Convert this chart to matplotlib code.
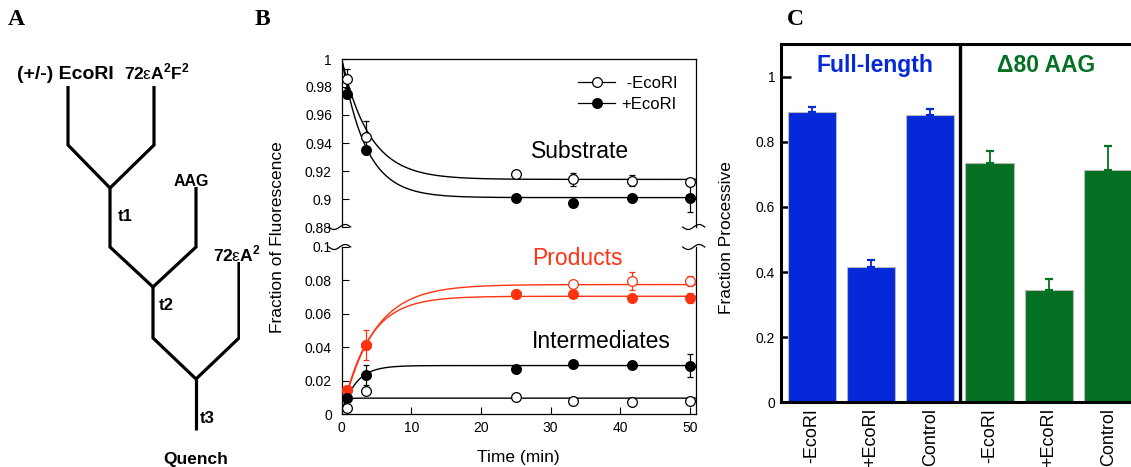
import numpy as np
import matplotlib
matplotlib.use("Agg")
from matplotlib import pyplot as plt
from matplotlib import transforms

plt.rcParams['font.family'] = ['Liberation Sans', 'DejaVu Sans']
plt.rcParams['mathtext.fontset'] = 'custom'
plt.rcParams['mathtext.rm'] = 'Liberation Sans'
plt.rcParams['mathtext.bf'] = 'Liberation Sans:bold'

# ---- panel B: pre-steady-state time course ----
time_min = [0.83, 3.5, 25.0, 33.3, 41.7, 50.0]

sub_minus = [0.986, 0.944, 0.918, 0.914, 0.913, 0.912]
sub_minus_err = [0.007, 0.0115, 0.0, 0.0048, 0.004, 0.0]
sub_plus = [0.975, 0.935, 0.901, 0.897, 0.901, 0.901]
sub_plus_err = [0.003, 0.0, 0.0, 0.0, 0.0, 0.010]

prod_minus = [0.0145, 0.0414, 0.0716, 0.078, 0.0797, 0.0797]
prod_minus_err = [0.0, 0.0, 0.0, 0.0, 0.0054, 0.003]
prod_plus = [0.0145, 0.0414, 0.0716, 0.072, 0.0694, 0.0694]
prod_plus_err = [0.002, 0.0088, 0.002, 0.002, 0.0, 0.003]

int_minus = [0.0036, 0.0139, 0.0101, 0.0075, 0.0074, 0.0075]
int_minus_err = [0.0, 0.0, 0.0, 0.0, 0.0, 0.0]
int_plus = [0.0095, 0.0235, 0.0268, 0.030, 0.0292, 0.029]
int_plus_err = [0.002, 0.006, 0.0, 0.002, 0.0, 0.0067]

# single-exponential fits: (plateau, amplitude, rate per min)
sub_minus_fit = (0.914, 0.086, 0.25)
sub_plus_fit = (0.901, 0.099, 0.29)
prod_minus_fit = (0.0775, -0.0775, 0.22)
prod_plus_fit = (0.0705, -0.0705, 0.26)
int_minus_fit = (0.0095, -0.0095, 2.5)
int_plus_fit = (0.029, -0.029, 0.5)

# ---- panel C: fraction processive ----
conditions = ['-EcoRI', '+EcoRI', 'Control']
full_length = [0.891, 0.414, 0.883]
full_length_err = [0.015, 0.024, 0.016]
delta80 = [0.734, 0.345, 0.712]
delta80_err = [0.038, 0.034, 0.074]

# ---- panel A: mixing scheme (diagram units) ----
mix_paths = [
    [(68, 86), (68, 145), (110, 188), (154, 145), (154, 86)],
    [(110, 188), (110, 247), (153, 287), (196, 247), (196, 187)],
    [(153, 287), (153, 338), (196, 379), (239, 338), (239, 262)],
    [(196, 379), (196, 430)],
]
mix_labels = [
    ('(+/-) EcoRI', 17, 79, 'left', 14),
    (r'72$\mathrm{\varepsilon}\mathbf{A}^{\mathbf{2}}\mathbf{F}^{\mathbf{2}}$', 124, 79, 'left', 12.5),
    ('AAG', 191, 186, 'center', 11.5),
    ('t1', 118, 221, 'left', 12),
    (r'72$\mathrm{\varepsilon}\mathbf{A}^{\mathbf{2}}$', 213, 261, 'left', 12.5),
    ('t2', 159, 310, 'left', 12),
    ('t3', 200, 423, 'left', 12),
    ('Quench', 196, 464, 'center', 12.5),
]

RED = '#ff3311'
BLUE = '#0529d9'
GREEN = '#047022'

W, H = 1131, 467
fig = plt.figure(figsize=(W / 100, H / 100), dpi=100)


def frac(left, top, right, bottom):
    return [left / W, 1 - bottom / H, (right - left) / W, (bottom - top) / H]


def exp_fit(params, t):
    plateau, amp, k = params
    return plateau + amp * np.exp(-k * t)


def break_mark(ax, xfrac, yfrac):
    # small tilde drawn in inches around an axes-fraction anchor
    s = np.linspace(-1, 1, 40)
    xs = s * 0.11 - 0.02
    ys = 0.025 * np.sin(np.pi * s)
    tr = fig.dpi_scale_trans + transforms.ScaledTranslation(xfrac, yfrac, ax.transAxes)
    ax.plot(xs, ys, color='black', lw=0.9, transform=tr, clip_on=False)


# panel A
axA = fig.add_axes([0, 0, 240 / W, 1])
axA.set_xlim(0, 240)
axA.set_ylim(H, 0)
axA.axis('off')
for path in mix_paths:
    xs, ys = zip(*path)
    axA.plot(xs, ys, color='black', lw=2.3, solid_joinstyle='miter', solid_capstyle='butt')
for txt, x, y, ha, fs in mix_labels:
    axA.text(x, y, txt, ha=ha, va='baseline', fontsize=fs, fontweight='bold')

# panel B
ax_top = fig.add_axes(frac(341.7, 59, 695.7, 227))
ax_bot = fig.add_axes(frac(341.7, 247, 695.7, 414))
tfit = np.linspace(0, 50.86, 400)


def series(ax, y, err, fit, color, filled):
    ax.plot(tfit, exp_fit(fit, tfit), color=color, lw=1.0, zorder=2)
    ax.errorbar(time_min, y, yerr=err, fmt='none', ecolor=color, elinewidth=0.9,
                capsize=2, capthick=0.9, zorder=3)
    ax.plot(time_min, y, 'o', ms=7, mec=color, mew=0.9,
            mfc=color if filled else 'white', zorder=4)


series(ax_top, sub_minus, sub_minus_err, sub_minus_fit, 'black', False)
series(ax_top, sub_plus, sub_plus_err, sub_plus_fit, 'black', True)
series(ax_bot, prod_minus, prod_minus_err, prod_minus_fit, RED, False)
series(ax_bot, prod_plus, prod_plus_err, prod_plus_fit, RED, True)
series(ax_bot, int_minus, int_minus_err, int_minus_fit, 'black', False)
series(ax_bot, int_plus, int_plus_err, int_plus_fit, 'black', True)

ax_top.set_ylim(0.88, 1.0)
ax_top.set_yticks(np.arange(0.88, 1.001, 0.02))
ax_bot.set_ylim(0, 0.1)
ax_bot.set_yticks(np.arange(0, 0.1001, 0.02))
for ax in (ax_top, ax_bot):
    ax.set_xlim(0, 50.86)
    ax.yaxis.set_major_formatter(plt.FormatStrFormatter('%g'))
    ax.tick_params(direction='in', length=5, width=0.8, labelsize=10, right=False)
    ax.tick_params(axis='y', pad=7)
    for sp in ax.spines.values():
        sp.set_linewidth(0.9)
ax_top.spines['bottom'].set_visible(False)
ax_top.tick_params(bottom=False, labelbottom=False)
ax_bot.spines['top'].set_visible(False)
ax_bot.set_xticks([0, 10, 20, 30, 40, 50])
ax_bot.tick_params(axis='x', pad=5)
ax_bot.set_xlabel('Time (min)', fontsize=12.5)
ax_bot.xaxis.labelpad = 11

for xf in (0.0, 1.0):
    break_mark(ax_top, xf, 0.0)
    break_mark(ax_bot, xf, 1.0)

fig.text(278 / W, 1 - 237 / H, 'Fraction of Fluorescence', rotation=90,
         ha='center', va='center', fontsize=12.5)

h1, = ax_top.plot([], [], '-o', color='black', lw=0.9, ms=7, mfc='white', mew=0.9)
h2, = ax_top.plot([], [], '-o', color='black', lw=0.9, ms=7, mew=0.9)
ax_top.legend([h1, h2], [' -EcoRI', '+EcoRI'], loc='upper right', frameon=False,
              fontsize=12, handlelength=2.2, handletextpad=0.4, labelspacing=0.35,
              bbox_to_anchor=(0.99, 0.99))

ax_top.text(0.672, 0.452, 'Substrate', transform=ax_top.transAxes, fontsize=16.5,
            ha='center', va='center')
ax_bot.text(0.665, 0.934, 'Products', transform=ax_bot.transAxes, fontsize=16.5,
            ha='center', va='center', color=RED)
ax_bot.text(0.734, 0.437, 'Intermediates', transform=ax_bot.transAxes, fontsize=16.5,
            ha='center', va='center')

# panel C
axC = fig.add_axes(frac(780.7, 44, 1139, 402.3))
x = np.arange(6)
heights = full_length + delta80
errs = full_length_err + delta80_err
colors = [BLUE] * 3 + [GREEN] * 3
axC.bar(x, heights, width=0.81, color=colors, edgecolor='#b8b8b8', linewidth=0.8, zorder=2)
for xi, h, e, c in zip(x, heights, errs, colors):
    axC.errorbar(xi, h, yerr=[[0], [e]], fmt='none', ecolor=c, elinewidth=1.3,
                 capsize=3, capthick=1.6, zorder=3)
axC.axvline(2.5, color='black', lw=2.4, zorder=4)
axC.set_xlim(-0.52, 5.52)
axC.set_ylim(0, 1.1)
axC.set_yticks([0, 0.2, 0.4, 0.6, 0.8, 1.0])
axC.yaxis.set_major_formatter(plt.FormatStrFormatter('%g'))
axC.set_xticks(x)
axC.set_xticklabels(conditions * 2, rotation=90, fontsize=13)
axC.tick_params(axis='x', length=0, pad=4)
axC.tick_params(axis='y', direction='in', length=7, width=1.8, labelsize=10, pad=4)
for sp in ('left', 'top', 'bottom'):
    axC.spines[sp].set_linewidth(2.2)
axC.spines['right'].set_visible(False)
axC.set_ylabel('Fraction Processive', fontsize=12.5)
axC.yaxis.set_label_coords(-0.13, 0.46)
axC.text(1.07, 1.035, 'Full-length', fontsize=16.5, fontweight='bold', color=BLUE,
         ha='center', va='center')
axC.text(3.95, 1.035, '\u039480 AAG', fontsize=16.5, fontweight='bold', color=GREEN,
         ha='center', va='center')

# panel letters
for letter, px in (('A', 8), ('B', 255), ('C', 787)):
    fig.text(px / W, 1 - 25 / H, letter, fontsize=17, fontweight='bold',
             family='Liberation Serif', ha='left', va='baseline')

fig.savefig('out.png', dpi=100)
